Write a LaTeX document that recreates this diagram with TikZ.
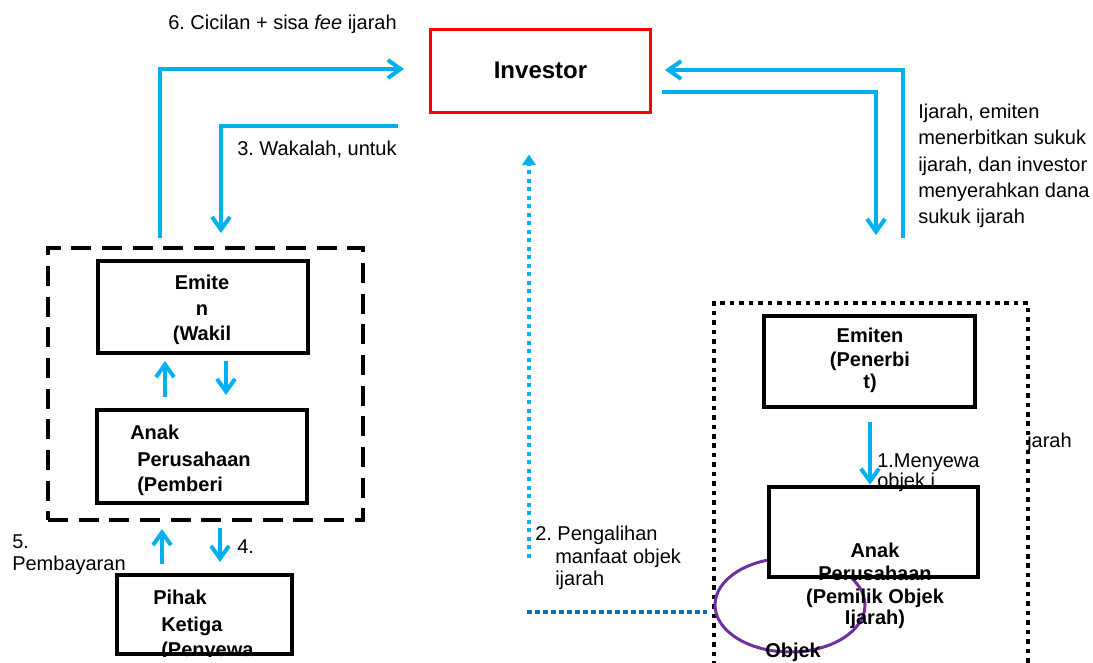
\documentclass[tikz,border=0pt]{standalone}
\usepackage{fontspec}
\setmainfont{Liberation Sans}
\usetikzlibrary{arrows.meta,shapes.geometric}
\definecolor{flowblue}{HTML}{00B0F0}
\definecolor{deepblue}{HTML}{0070C0}
\definecolor{invred}{HTML}{FF0000}
\definecolor{objpurple}{HTML}{7030A0}
\frenchspacing
\begin{document}
\begin{tikzpicture}[x=0.75pt,y=-0.75pt,
  txt/.style={inner sep=0pt,font=\fontsize{15}{18}\selectfont},
  btxt/.style={inner sep=0pt,font=\bfseries\fontsize{15}{18}\selectfont},
  box/.style={draw=black,line width=3pt,fill=white,inner sep=0pt},
  boxline/.style={draw=black,line width=3pt},
  dashgroup/.style={draw=black,line width=3pt,dash pattern=on 15pt off 8pt,inner sep=0pt},
  dotgroup/.style={draw=black,line width=3pt,dash pattern=on 3.4pt off 3.7pt,inner sep=0pt},
  flow/.style={draw=flowblue,line width=3pt,-{Straight Barb[length=9.5pt,width=13.5pt]}},
  dotflow/.style={draw=flowblue,line width=3pt,dash pattern=on 3pt off 3.4pt,-{Triangle[length=8pt,width=10pt]}},
  dotlink/.style={draw=deepblue,line width=3pt,dash pattern=on 3.4pt off 2.6pt}
]
\useasboundingbox (0,0) rectangle (1093,662);
\fill[white] (0,0) rectangle (1093,662);
\clip (0,0) rectangle (1093,662);

% grouping frames
\node[dashgroup,minimum width=236.25pt,minimum height=204pt] (grpA) at (205.5,384) {};
\node[dotgroup,minimum width=235.5pt,minimum height=282.75pt] (grpB) at (871,491.5) {};

% object of the lease
\node[ellipse,draw=objpurple,line width=2.25pt,minimum width=112.5pt,minimum height=70.5pt,inner sep=0pt] (obj) at (790,605) {};

% boxes
\node[draw=invred,line width=2.25pt,fill=white,minimum width=165pt,minimum height=62.25pt,
      font=\bfseries\fontsize{18}{22}\selectfont] (inv) at (540.5,70.5) {Investor};
\node[box,minimum width=157.5pt,minimum height=69pt] (ewk) at (202.5,307) {};
\node[box,minimum width=157.5pt,minimum height=69.75pt] (apb) at (201.5,456.5) {};
\node[box,minimum width=131.25pt,minimum height=59.25pt] (pih) at (204.5,614.5) {};
\node[box,minimum width=158.25pt,minimum height=68.25pt] (ep) at (869.5,361.5) {};
\node[fill=white,inner sep=0pt,minimum width=156.75pt,minimum height=67.5pt] (apm) at (873.5,532) {};

% texts of the boxes
\node[btxt,anchor=base] (ewk1) at (202,289) {Emite};
\node[btxt,anchor=base] (ewk2) at (202,315) {n};
\node[btxt,anchor=base] (ewk3) at (202,340) {(Wakil};
\node[btxt,anchor=base west] (apb1) at (130,439) {Anak};
\node[btxt,anchor=base west] (apb2) at (137,466) {Perusahaan};
\node[btxt,anchor=base west] (apb3) at (137,491) {(Pemberi};
\node[btxt,anchor=base west] (pih1) at (153,604) {Pihak};
\node[btxt,anchor=base west] (pih2) at (161,631) {Ketiga};
\begin{scope}
  \clip (pih.south west) rectangle (pih.north east);
  \node[btxt,anchor=base west] (pih3) at (161,656) {(Penyewa};
\end{scope}
\node[btxt,anchor=base] (ep1) at (870,342) {Emiten};
\node[btxt,anchor=base] (ep2) at (870,366) {(Penerbi};
\node[btxt,anchor=base] (ep3) at (870,388) {t)};
\node[btxt,anchor=base] (apm1) at (875,557) {Anak};
\node[btxt,anchor=base] (apm2) at (875,580) {Perusahaan};
\node[btxt,anchor=base] (apm3) at (875,603) {(Pemilik Objek};
\node[btxt,anchor=base] (apm4) at (875,624) {Ijarah)};
\node[btxt,anchor=base west] (objt) at (765,657) {Objek};

% flow labels
\node[txt,anchor=base west] (l6) at (168,29) {6. Cicilan + sisa \textit{fee} ijarah};
\node[txt,anchor=base west] (l3) at (237,155) {3. Wakalah, untuk};
\node[txt,anchor=base west] (lr1) at (918,118) {Ijarah, emiten};
\node[txt,anchor=base west] (lr2) at (918,144.5) {menerbitkan sukuk};
\node[txt,anchor=base west] (lr3) at (918,171) {ijarah, dan investor};
\node[txt,anchor=base west] (lr4) at (918,197) {menyerahkan dana};
\node[txt,anchor=base west] (lr5) at (918,223.5) {sukuk ijarah};
\node[txt,anchor=base west] (l2a) at (535,540) {2. Pengalihan};
\node[txt,anchor=base west] (l2b) at (555,563) {manfaat objek};
\node[txt,anchor=base west] (l2c) at (555,585) {ijarah};
\node[txt,anchor=base west] (l1a) at (877,467) {1.Menyewa};
\node[txt,anchor=base west] (l1b) at (877,487) {objek i};
\node[txt,anchor=base west] (ljr) at (1027,447) {jarah};
\node[txt,anchor=base west] (l5a) at (12,548) {5.};
\node[txt,anchor=base west] (l5b) at (12,570) {Pembayaran};
\node[txt,anchor=base west] (l4) at (237,553) {4.};

% box border drawn over its overflowing text
\draw[boxline] (apm.south west) rectangle (apm.north east);

% free ends of the dotted links
\coordinate (dvs) at (529,558);
\coordinate (dhs) at (527,612);

% connectors
\draw[flow] ([shift={(-45.5,-8)}]grpA.north) |- ([shift={(-25,-1.5)}]inv.west);
\draw[flow] ([shift={(-31.5,55.5)}]inv.west) -| ([shift={(15.5,-13)}]grpA.north);
\draw[flow] ([shift={(32,-63)}]grpB.north) |- ([shift={(13,-0.5)}]inv.east);
\draw[flow] ([shift={(9.5,21.5)}]inv.east) -| ([shift={(5,-66)}]grpB.north);
\draw[flow] ([shift={(-36.5,-11)}]apb.north) -- ([shift={(-37.5,6)}]ewk.south);
\draw[flow] ([shift={(23.5,6)}]ewk.south) -- ([shift={(24.5,-13)}]apb.north);
\draw[flow] ([shift={(-42.5,-9)}]pih.north) -- ([shift={(-43.5,7)}]grpA.south);
\draw[flow] ([shift={(14.5,6)}]grpA.south) -- ([shift={(15.5,-11)}]pih.north);
\draw[flow] ([shift={(0.5,13)}]ep.south) -- ([shift={(-3.5,-2)}]apm.north);
\draw[dotflow] (dvs) -- ([shift={(-11.5,41)}]inv.south);
\draw[dotlink] (dhs) -- ([shift={(-7,7)}]obj.west);
\end{tikzpicture}
\end{document}
